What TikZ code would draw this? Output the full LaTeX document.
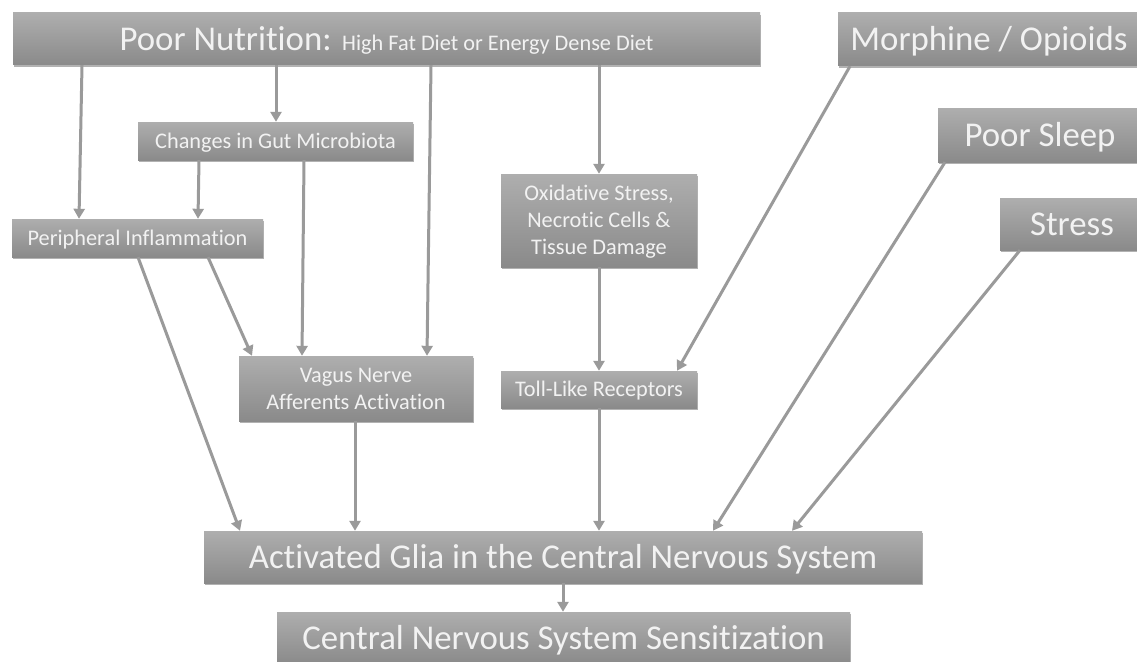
\documentclass[tikz,border=0pt]{standalone}
\usepackage{fontspec}
\setmainfont{Carlito}[Ligatures=NoCommon]
\usetikzlibrary{arrows.meta,shadows}
\definecolor{boxtop}{HTML}{AEAEAE}
\definecolor{boxbot}{HTML}{8A8A8A}
\definecolor{arrgray}{HTML}{9A9A9A}
\definecolor{txtcol}{HTML}{F2F2F2}
\newcommand\bigfs{\fontsize{34.8}{42}\selectfont}
\newcommand\midfs{\fontsize{22.3}{27}\selectfont}
\begin{document}
\begin{tikzpicture}[x=1pt,y=-1pt,
  box/.style={top color=boxtop,bottom color=boxbot,text=txtcol,inner sep=0pt,align=center,
    drop shadow={shadow xshift=1.2pt,shadow yshift=-1.8pt,opacity=0.3,fill=black}},
  bigbox/.style={box,font=\bigfs,text height=22.5pt,text depth=0pt},
  midbox/.style={box,font=\midfs,text height=14.4pt,text depth=0pt},
  arr/.style={draw=arrgray,line width=3pt,-{Triangle[length=10pt,width=11pt]}}]
\useasboundingbox[fill=white] (0,0) rectangle (1137,661);

\node[bigbox,minimum width=747pt,minimum height=52pt] (top) at (386.5,39)
  {Poor Nutrition: {\midfs High Fat Diet or Energy Dense Diet}};
\node[bigbox,minimum width=302pt,minimum height=53pt] (morph) at (989,39.5) {Morphine / Opioids};
\node[bigbox,minimum width=204pt,minimum height=54pt] (sleep) at (1040,135) {Poor Sleep};
\node[bigbox,minimum width=144pt,minimum height=52pt] (stress) at (1072,224) {Stress};
\node[midbox,minimum width=275pt,minimum height=38pt] (gut) at (275.5,141) {Changes in Gut Microbiota};
\node[midbox,minimum width=251pt,minimum height=38pt] (peri) at (137.5,238) {Peripheral Inflammation};
\node[midbox,text height=68.4pt,minimum width=196pt,minimum height=93pt] (oxid) at (599,220.5)
  {Oxidative Stress,\\Necrotic Cells \&\\Tissue Damage};
\node[midbox,minimum width=196pt,minimum height=37pt] (toll) at (599,389.5) {Toll-Like Receptors};
\node[midbox,text height=41.4pt,minimum width=234pt,minimum height=65pt] (vagus) at (356,388.5)
  {Vagus Nerve\\Afferents Activation};
\node[bigbox,minimum width=718pt,minimum height=52pt] (glia) at (563,557)
  {Activated Glia in the Central Nervous System};
\node[bigbox,minimum width=573pt,minimum height=52pt] (cns) at (563.5,638)
  {Central Nervous System Sensitization};

\draw[arr] ([xshift=-304.5pt]top.south) -- ([xshift=-58.5pt]peri.north);
\draw[arr] ([xshift=-110.5pt]top.south) -- ([xshift=0.5pt]gut.north);
\draw[arr] ([xshift=44.5pt]top.south) -- ([xshift=71pt]vagus.north);
\draw[arr] ([xshift=212.5pt]top.south) -- (oxid.north);
\draw[arr] ([xshift=-76.5pt]gut.south) -- ([xshift=60.5pt]peri.north);
\draw[arr] ([xshift=28.5pt]gut.south) -- ([xshift=-54pt]vagus.north);
\draw[arr] ([xshift=70.5pt]peri.south) -- ([xshift=-104pt]vagus.north);
\draw[arr] ([xshift=0.5pt]peri.south) -- ([xshift=-323pt]glia.north);
\draw[arr] (oxid.south) -- (toll.north);
\draw[arr] ([xshift=-139pt]morph.south) -- ([xshift=78pt]toll.north);
\draw[arr] ([xshift=-1pt]vagus.south) -- ([xshift=-208pt]glia.north);
\draw[arr] (toll.south) -- ([xshift=36pt]glia.north);
\draw[arr] ([xshift=-95pt]sleep.south) -- ([xshift=150pt]glia.north);
\draw[arr] ([xshift=-52pt]stress.south) -- ([xshift=229pt]glia.north);
\draw[arr] (glia.south) -- ([xshift=-0.5pt]cns.north);
\end{tikzpicture}
\end{document}
